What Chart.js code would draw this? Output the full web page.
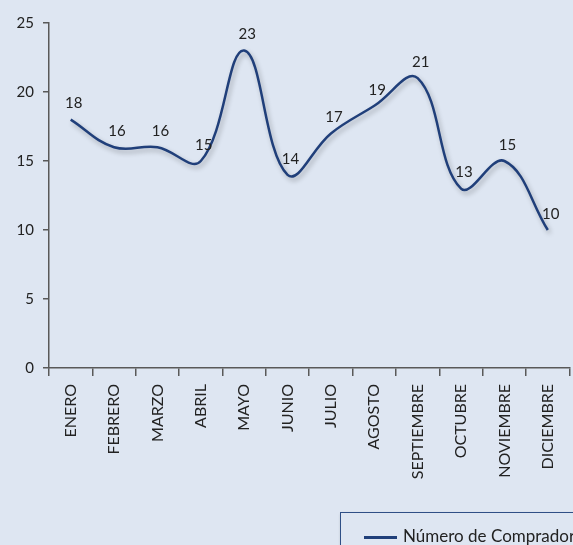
<!DOCTYPE html>
<html>
<head>
<meta charset="utf-8">
<script src="https://cdn.jsdelivr.net/npm/chart.js@4/dist/chart.umd.min.js"></script>
<style>
    html, body { margin: 0; padding: 0; overflow: hidden; background: #dee6f2; }
    #wrap { position: relative; width: 573px; height: 545px; overflow: hidden; }
    #chart { position: absolute; left: 0; top: 0; }
    .legend {
        position: absolute; left: 340px; top: 512px; width: 260px; height: 60px;
        border: 1px solid #2f4f86; box-shadow: 1px 2px 3px rgba(0,0,0,0.25);
        font-family: Lato, sans-serif; font-size: 17px; color: #222;
    }
    .legend .swatch { position: absolute; left: 23px; top: 23px; width: 33px; height: 2.5px; background: #203f7a; }
    .legend .label { position: absolute; left: 62px; top: 12px; white-space: nowrap; }
</style>
</head>
<body>
<div id="wrap">
    <canvas id="chart" width="575" height="545"></canvas>
    <div class="legend"><div class="swatch"></div><div class="label">Número de Compradores</div></div>
</div>
<script>
const months = ['ENERO', 'FEBRERO', 'MARZO', 'ABRIL', 'MAYO', 'JUNIO',
    'JULIO', 'AGOSTO', 'SEPTIEMBRE', 'OCTUBRE', 'NOVIEMBRE', 'DICIEMBRE'];
const buyers = [18, 16, 16, 15, 23, 14, 17, 19, 21, 13, 15, 10];
const seriesName = 'Número de Compradores';

const lineColor = '#203f7a';
const axisColor = '#595959';

// drop shadow under the line, like the original
const shadowPlugin = {
    id: 'lineShadow',
    beforeDatasetDraw(chart) {
        const ctx = chart.ctx;
        ctx.save();
        ctx.shadowColor = 'rgba(0, 0, 0, 0.28)';
        ctx.shadowBlur = 5;
        ctx.shadowOffsetX = 2;
        ctx.shadowOffsetY = 3;
    },
    afterDatasetDraw(chart) {
        chart.ctx.restore();
    }
};

// value labels above each point
const valueLabels = {
    id: 'valueLabels',
    afterDatasetsDraw(chart) {
        const ctx = chart.ctx;
        const meta = chart.getDatasetMeta(0);
        ctx.save();
        ctx.font = '15px Lato, sans-serif';
        ctx.fillStyle = '#222';
        ctx.textAlign = 'center';
        ctx.textBaseline = 'middle';
        meta.data.forEach((pt, i) => {
            ctx.fillText(chart.data.datasets[0].data[i], pt.x + 3, pt.y - 16);
        });
        ctx.restore();
    }
};

new Chart(document.getElementById('chart'), {
    type: 'line',
    data: {
        labels: months,
        datasets: [{
            label: seriesName,
            data: buyers,
            borderColor: lineColor,
            borderWidth: 2.5,
            tension: 0.4,
            pointRadius: 0,
            fill: false
        }]
    },
    options: {
        responsive: false,
        animation: false,
        layout: { padding: { top: 23, right: 0, left: 0, bottom: 0 } },
        plugins: {
            legend: { display: false },
            tooltip: { enabled: false }
        },
        scales: {
            x: {
                offset: true,
                grid: {
                    offset: true,
                    drawOnChartArea: false,
                    color: axisColor,
                    lineWidth: 1.5,
                    tickLength: 8
                },
                border: { color: axisColor, width: 1.5 },
                ticks: {
                    minRotation: 90,
                    maxRotation: 90,
                    autoSkip: false,
                    padding: 8,
                    color: '#222',
                    font: { family: 'Lato, sans-serif', size: 16 }
                },
                afterFit(scale) { scale.height = 177; }
            },
            y: {
                min: 0,
                max: 25,
                ticks: {
                    stepSize: 5,
                    padding: 9,
                    color: '#222',
                    font: { family: 'Lato, sans-serif', size: 15 }
                },
                grid: {
                    drawOnChartArea: false,
                    color: axisColor,
                    lineWidth: 1.5,
                    tickLength: 6
                },
                border: { color: axisColor, width: 1.5 },
                afterFit(scale) { scale.width = 49; }
            }
        }
    },
    plugins: [shadowPlugin, valueLabels]
});
</script>
</body>
</html>
